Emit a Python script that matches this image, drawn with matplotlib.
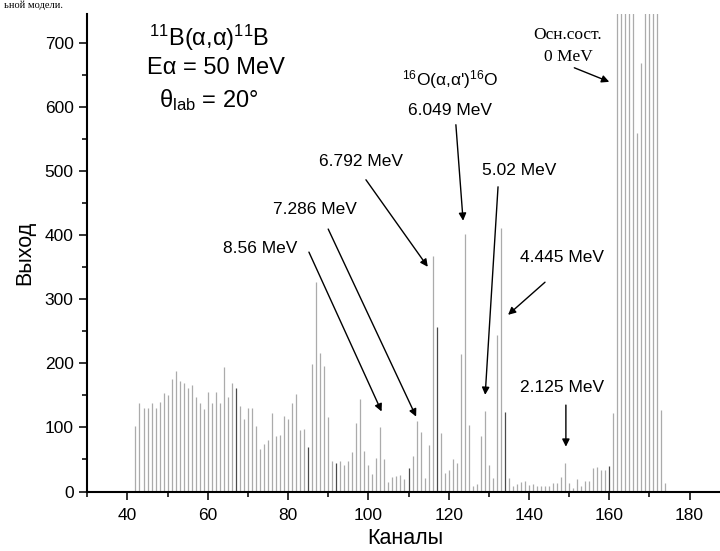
import matplotlib
matplotlib.use("Agg")
import matplotlib.pyplot as plt
from matplotlib.ticker import MultipleLocator
import numpy as np

plt.rcParams['font.family'] = ['Liberation Sans', 'DejaVu Sans']
plt.rcParams['mathtext.fontset'] = 'custom'
plt.rcParams['mathtext.rm'] = 'Liberation Sans'
plt.rcParams['mathtext.it'] = 'Liberation Sans:italic'
plt.rcParams['mathtext.bf'] = 'Liberation Sans:bold'

# ---- data ----
channels = list(range(42, 175))
counts = [
    102, 139, 131, 130, 139, 131, 140, 154, 151, 175,   # 42-51
    188, 173, 169, 161, 166, 147, 138, 129, 156, 138,   # 52-61
    156, 139, 195, 147, 169, 162, 134, 114, 130, 131,   # 62-71
    102, 66, 74, 80, 123, 87, 89, 118, 114, 139,        # 72-81
    153, 96, 98, 70, 199, 327, 216, 196, 117, 47,       # 82-91
    44, 47, 41, 47, 61, 107, 144, 64, 41, 27,           # 92-101
    53, 101, 51, 15, 23, 24, 25, 20, 36, 56,            # 102-111
    110, 93, 21, 72, 368, 257, 92, 29, 34, 51,          # 112-121
    45, 215, 402, 104, 9, 11, 87, 125, 41, 21,          # 122-131
    245, 412, 124, 21, 9, 11, 15, 16, 10, 11,           # 132-141
    9, 9, 8, 8, 13, 14, 23, 44, 14, 5,                  # 142-151
    19, 8, 16, 16, 36, 39, 33, 33, 40, 122,             # 152-161
    1400, 2200, 3000, 2600, 1800, 560, 669, 1200, 2000, 2400,  # 162-171
    1500, 127, 13,                                      # 172-174
]
dark_channels = [67, 85, 92, 110, 117, 134, 160]

x_ticks = [40, 60, 80, 100, 120, 140, 160, 180]
y_ticks = [0, 100, 200, 300, 400, 500, 600, 700]

# peak annotations: label, text position, arrow start, arrow end (data coords)
peaks = [
    ("8.56 MeV",  (73.0, 379), (85.2, 374), (103.3, 125)),
    ("7.286 MeV", (86.7, 440), (90.0, 410), (111.9, 117)),
    ("6.792 MeV", (98.2, 516), (99.4, 487), (114.8, 351)),
    ("5.02 MeV",  (137.5, 502), (132.3, 476), (129.1, 151)),
    ("4.445 MeV", (148.2, 365), (144.0, 327), (134.8, 276)),
    ("2.125 MeV", (148.2, 163), (149.2, 135), (149.2, 70)),
]

fig = plt.figure(figsize=(7.2, 5.51), dpi=100)
ax = fig.add_axes([87.3 / 720, (551 - 491.5) / 551, (720 - 87.3) / 720, (491.5 - 14) / 551])

colors = ['#4a4a4a' if c in dark_channels else '#ababab' for c in channels]
ax.vlines(channels, 0, counts, colors=colors, linewidth=0.9)

ax.set_xlim(30, 30 + (720 - 87.3) / 4.015)
ax.set_ylim(0, 746)
ax.set_xticks(x_ticks)
ax.set_yticks(y_ticks)
ax.xaxis.set_minor_locator(MultipleLocator(10))
ax.yaxis.set_minor_locator(MultipleLocator(50))
ax.spines['top'].set_visible(False)
ax.spines['right'].set_visible(False)
ax.spines['left'].set_linewidth(1.5)
ax.spines['bottom'].set_linewidth(1.5)
ax.tick_params(which='major', direction='out', length=5.8, width=1.3, labelsize=12.5, color='#222222')
ax.tick_params(which='minor', direction='out', length=3.3, width=1.3, color='#222222')
ax.tick_params(axis='x', pad=6)
ax.tick_params(axis='y', pad=4)

ax.set_xlabel("Каналы", fontsize=15.5)
ax.set_ylabel("Выход", fontsize=15.5)
ax.xaxis.set_label_coords((405 - 87.3) / (720 - 87.3), -(528 - 491.5) / (491.5 - 14))
ax.yaxis.set_label_coords(-(87.3 - 35) / (720 - 87.3), (491.5 - 253) / (491.5 - 14))

# line of the surrounding document text at the very top (shrunk to fit)
fig.text(4 / 720, 1 - 1 / 551, "ьной модели.", fontsize=7.5, ha='left', va='top',
         family=['Liberation Serif', 'DejaVu Serif'])

# reaction info
ax.text(60.3, 709, r"$^{11}$B(α,α)$^{11}$B", fontsize=17, ha='center', va='center')
ax.text(62.1, 662, "Eα = 50 MeV", fontsize=17, ha='center', va='center')
ax.text(60.1, 612, r"θ$_{\mathrm{lab}}$ = 20°", fontsize=17, ha='center', va='center')

arrow_kw = dict(arrowstyle='-|>', color='black', lw=1.0, mutation_scale=11,
                shrinkA=0, shrinkB=0)
for label, tpos, start, end in peaks:
    ax.text(tpos[0], tpos[1], label, fontsize=12.5, ha='center', va='center')
    ax.annotate('', xy=end, xytext=start, arrowprops=arrow_kw)

# 16O contaminant
ax.text(120.3, 643, r"$^{16}$O(α,α')$^{16}$O", fontsize=12.5, ha='center', va='center')
ax.text(120.3, 596, "6.049 MeV", fontsize=12.5, ha='center', va='center')
ax.annotate('', xy=(123.6, 423), xytext=(121.8, 573), arrowprops=arrow_kw)

# ground state
ax.text(149.7, 713, "Осн.сост.", fontsize=12.5, ha='center', va='center',
        family=['Liberation Serif', 'DejaVu Serif'])
ax.text(149.7, 679, "0 MeV", fontsize=12.5, ha='center', va='center',
        family=['Liberation Serif', 'DejaVu Serif'])
ax.annotate('', xy=(160.0, 640), xytext=(151.3, 662), arrowprops=arrow_kw)

fig.savefig("out.png", dpi=100)
